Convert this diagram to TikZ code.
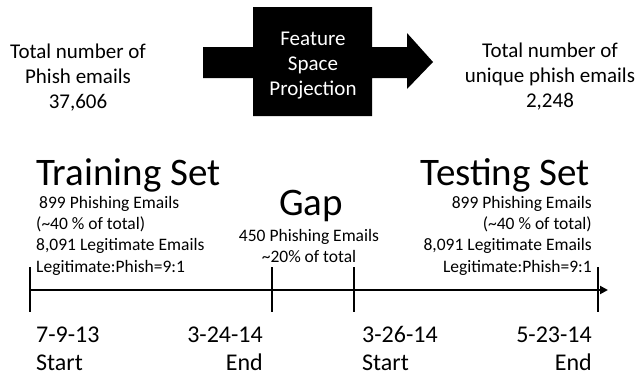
\documentclass[tikz,border=0pt]{standalone}
\usepackage{fontspec}
\setmainfont{Carlito}
\usetikzlibrary{arrows.meta}

\begin{document}
\begin{tikzpicture}[x=1pt, y=-1pt,
    texte/.style={inner sep=0pt, font=\fontsize{21}{25}\selectfont, align=center},
    titre/.style={inner sep=0pt, font=\fontsize{39}{41}\selectfont},
    detail/.style={inner sep=0pt, font=\fontsize{17.5}{21.3}\selectfont},
    jour/.style={inner sep=0pt, font=\fontsize{24}{28}\selectfont},
    trait/.style={line width=1.6pt}]
    \useasboundingbox (0,0) rectangle (638,378);
    % Projection
    \fill (203,47) -- (253,47) -- (253,7) -- (372,7) -- (372,47) -- (407,47) -- (407,33)
      -- (433,62) -- (407,89) -- (407,78) -- (372,78) -- (372,116) -- (253,116)
      -- (253,78) -- (203,78) -- cycle;
    \node[texte, text=white, anchor=base] (proj) at (313,95) {Feature\\Space\\Projection};
    % Totaux (ancre sur la derniere ligne)
    \node[texte, anchor=base] (tous) at (78,108) {Total number of\\Phish emails\\37,606};
    \node[texte, anchor=base] (uniques) at (550,107) {Total number of\\unique phish emails\\2,248};
    % Axe du temps
    \coordinate (debut) at (30,290);
    \coordinate (fin) at (608,290);
    \draw[line width=2.6pt, -{Triangle[length=8pt, width=8pt]}] (debut) -- (fin);
    % Graduations
    \foreach \x in {30, 272, 354, 598}
      \draw[trait] (\x,267) -- (\x,312);
    % Ensembles
    \node[titre, anchor=base west] (apprent) at (36,185) {Training Set};
    \node[detail, align=left, anchor=base west] (apprentinfo) at (36,272)
      {\hspace{3pt}899 Phishing Emails\\(\textasciitilde40 \% of total)\\8,091 Legitimate Emails\\Legitimate:Phish=9:1};
    \node[titre, anchor=base] (ecart) at (311,215) {Gap};
    \node[detail, align=center, anchor=base, font=\fontsize{17.5}{20.5}\selectfont] (ecartinfo) at (309,262)
      {450 Phishing Emails\\\textasciitilde20\% of total};
    \node[titre, anchor=base east] (test) at (590,185) {Testing Set};
    \node[detail, align=right, anchor=base east] (testinfo) at (592,272)
      {899 Phishing Emails\\(\textasciitilde40 \% of total)\\8,091 Legitimate Emails\\Legitimate:Phish=9:1};
    % Dates
    \node[jour, align=left, anchor=base west] (d1) at (36,370) {7-9-13\\Start};
    \node[jour, align=right, anchor=base east] (d2) at (263,370) {3-24-14\\End};
    \node[jour, align=left, anchor=base west] (d3) at (362,370) {3-26-14\\Start};
    \node[jour, align=right, anchor=base east] (d4) at (592,370) {5-23-14\\End};
\end{tikzpicture}
\end{document}
